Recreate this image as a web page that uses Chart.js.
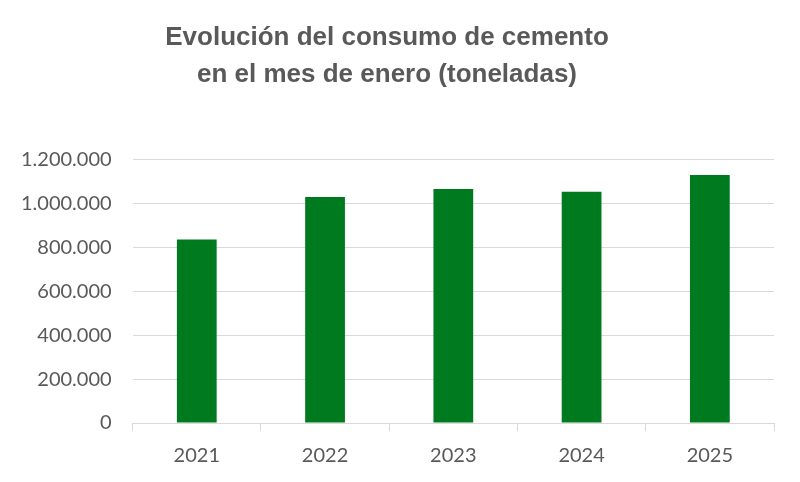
<!DOCTYPE html>
<html>
<head>
<meta charset="utf-8">
<script src="https://cdn.jsdelivr.net/npm/chart.js@4/dist/chart.umd.min.js"></script>
<style>
html,body{margin:0;padding:0;background:#fff;}
#wrap{width:800px;height:482px;}
</style>
</head>
<body>
<div id="wrap"><canvas id="c" width="800" height="482"></canvas></div>
<script>
const categories = ['2021', '2022', '2023', '2024', '2025'];
const consumo = [837000, 1031000, 1067000, 1055000, 1131000];
const titleLines = ['Evolución del consumo de cemento', 'en el mes de enero (toneladas)'];

function fmt(v){ return String(v).replace(/\B(?=(\d{3})+(?!\d))/g, '.'); }

new Chart(document.getElementById('c'), {
  type: 'bar',
  data: {
    labels: categories,
    datasets: [{
      data: consumo,
      backgroundColor: '#007A1F',
      borderWidth: 0,
      categoryPercentage: 1,
      barPercentage: 0.31
    }]
  },
  options: {
    responsive: false,
    animation: false,
    devicePixelRatio: 1,
    layout: { padding: { left: 0, right: 26, top: 16, bottom: 1 } },
    plugins: {
      legend: { display: false },
      tooltip: { enabled: false },
      title: {
        display: true,
        text: titleLines,
        color: '#595959',
        font: { family: '"Liberation Sans", Arial, sans-serif', size: 26, weight: 'bold', lineHeight: 1.42 },
        padding: { top: 3, bottom: 67 }
      }
    },
    scales: {
      x: {
        grid: { display: true, offset: true, drawOnChartArea: false, drawTicks: true, tickLength: 8, color: '#D9D9D9' },
        border: { display: true, color: '#D9D9D9' },
        ticks: { color: '#595959', font: { family: 'Lato, sans-serif', size: 20 }, padding: 13 }
      },
      y: {
        min: 0, max: 1200000,
        grid: { color: '#D9D9D9', drawTicks: false },
        border: { display: false },
        ticks: { stepSize: 200000, color: '#595959', font: { family: 'Lato, sans-serif', size: 20 }, padding: 21, callback: v => fmt(v) }
      }
    }
  }
});
</script>
</body>
</html>
